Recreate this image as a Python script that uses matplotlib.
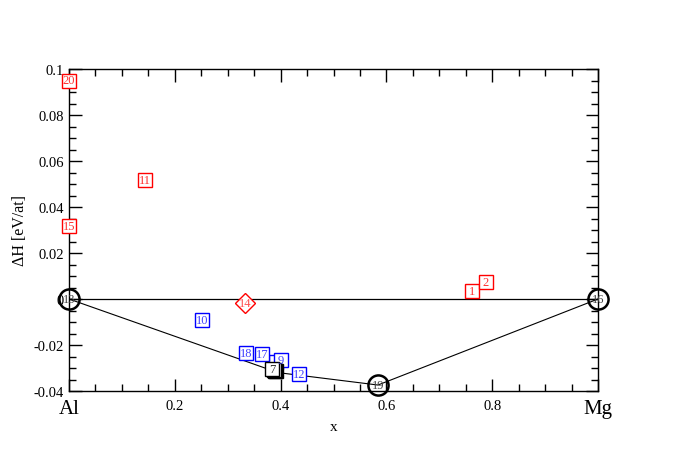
import matplotlib
matplotlib.use("Agg")
import matplotlib.pyplot as plt
from matplotlib.ticker import MultipleLocator

plt.rcParams['font.family'] = ['Liberation Serif', 'DejaVu Serif']

# red squares (above hull)
red_ids = ["20", "11", "15", "1", "2"]
red_x = [0.0, 0.144, 0.0, 0.762, 0.788]
red_y = [0.095, 0.0517, 0.0317, 0.0035, 0.0074]

# blue squares (near hull)
blue_ids = ["10", "18", "17", "9", "12"]
blue_x = [0.251, 0.335, 0.365, 0.401, 0.435]
blue_y = [-0.0091, -0.0235, -0.0239, -0.0266, -0.0326]

# blue square hidden behind 7 (label covered)
blue_hid_x = [0.392]
blue_hid_y = [-0.0275]

# black squares stacked on hull, only top one labelled
black_shadow_x = [0.391, 0.389, 0.387]
black_shadow_y = [-0.0313, -0.0311, -0.0308]
black_ids = ["7"]
black_x = [0.384]
black_y = [-0.0305]

# red diamond
dia_ids = ["14"]
dia_x = [0.333]
dia_y = [-0.0017]

# circles (ground states)
circ_ids = ["13", "19", "16"]
circ_x = [0.0, 0.584, 1.0]
circ_y = [0.0, -0.0374, 0.0]

# convex hull
hull_x = [0.0, 0.395, 0.584, 1.0]
hull_y = [0.0, -0.0320, -0.0374, 0.0]

xtick_vals = [0.0, 0.2, 0.4, 0.6, 0.8, 1.0]
xtick_labels = ["Al", "0.2", "0.4", "0.6", "0.8", "Mg"]
ytick_vals = [-0.04, -0.02, 0.0, 0.02, 0.04, 0.06, 0.08, 0.1]
ytick_labels = ["-0.04", "-0.02", "0", "0.02", "0.04", "0.06", "0.08", "0.1"]

fig = plt.figure(figsize=(6.8, 4.6), dpi=100)
ax = fig.add_axes([69 / 680, 1 - 392 / 460, 529 / 680, 322 / 460])

ax.plot([0, 1], [0, 0], color='black', lw=0.9, zorder=2)
ax.plot(hull_x, hull_y, color='black', lw=0.8, zorder=2)


def boxes(ids, xs, ys, col, marker='s', ms=10.5, fs=9, tcol=None, lw=1.0, fc='white'):
    for k, (xx, yy) in enumerate(zip(xs, ys)):
        ax.plot(xx, yy, marker=marker, ms=ms, mfc=fc, mec=col, mew=lw,
                clip_on=False, zorder=4)
        if ids:
            ax.text(xx, yy, ids[k], ha='center', va='center', fontsize=fs,
                    color=tcol or col, zorder=5, clip_on=False)


boxes(red_ids, red_x, red_y, 'red', tcol='#ff3030')
boxes(None, blue_hid_x, blue_hid_y, 'blue')
boxes(blue_ids, blue_x, blue_y, 'blue', tcol='#4040ff')
boxes(None, black_shadow_x, black_shadow_y, 'black')
boxes(black_ids, black_x, black_y, 'black', tcol='#333333')
boxes(dia_ids, dia_x, dia_y, 'red', marker='D', ms=10, tcol='#ff5050')
boxes(circ_ids, circ_x, circ_y, 'black', marker='o', ms=14.5, lw=1.8,
      fc='none', tcol='#444444')

ax.set_xlim(0, 1)
ax.set_ylim(-0.04, 0.1)
ax.set_xticks(xtick_vals)
ax.set_xticklabels(xtick_labels)
ax.set_yticks(ytick_vals)
ax.set_yticklabels(ytick_labels)
ax.xaxis.set_minor_locator(MultipleLocator(0.05))
ax.yaxis.set_minor_locator(MultipleLocator(0.005))
ax.tick_params(which='both', direction='in', top=True, right=True,
               labelsize=10.5, width=1)
ax.tick_params(which='major', length=9)
ax.tick_params(which='minor', length=5)
ax.tick_params(axis='x', pad=6)
for lab in ax.get_xticklabels():
    if lab.get_text() in ("Al", "Mg"):
        lab.set_fontsize(15)
for s in ax.spines.values():
    s.set_linewidth(1)

ax.set_xlabel("x", fontsize=11)
ax.xaxis.set_label_coords(0.5, -0.09)
ax.set_ylabel("ΔH [eV/at]", fontsize=11.5)
ax.yaxis.set_label_coords(-0.077, 0.5)

fig.savefig("out.png", dpi=100)
